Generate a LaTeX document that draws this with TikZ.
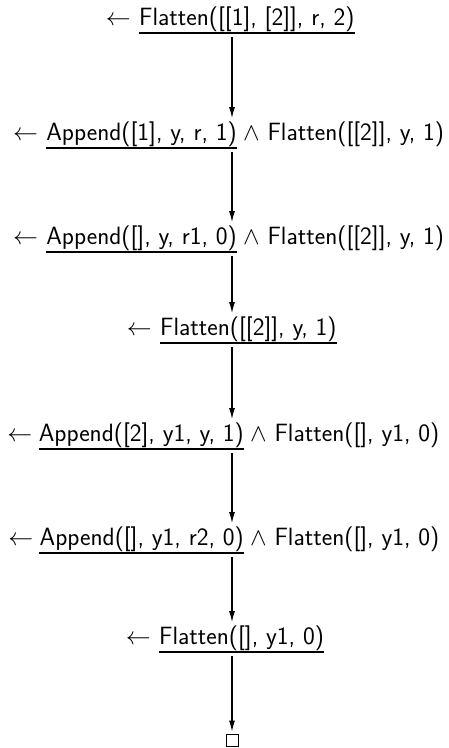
\documentclass[tikz,border=0pt]{standalone}
\usepackage{amsmath,amssymb}
\usepackage{tikz}
\usetikzlibrary{arrows.meta,positioning}
\tikzset{
  goal/.style={inner xsep=0pt,inner ysep=2pt,text height=18pt,text depth=5.5pt,
    font=\fontsize{25}{30}\selectfont\sffamily},
  selected/.style={goal},
  resolve/.style={-{Latex[length=11pt,width=6pt]},line width=1.2pt},
  uline/.style={line width=1.1pt}
}

\begin{document}
\begin{tikzpicture}[x=1pt,y=-1pt,node distance=8pt]
\useasboundingbox (0,0) rectangle (448,748);
\coordinate (col) at (232,0);
% line 1
\node[selected,anchor=south west] (s1) at (139,33) {Flatten([[1], [2]], r, 2)};
\node[goal,left=of s1] (a1) {$\leftarrow$};
% line 2
\node[selected,anchor=south east] (s2) at (237,148) {Append([1], y, r, 1)};
\node[goal,left=of s2] (a2) {$\leftarrow$};
\node[goal,right=6pt of s2] (r2) {$\wedge$ Flatten([[2]], y, 1)};
% line 3
\node[selected,anchor=south east] (s3) at (237,252) {Append([], y, r1, 0)};
\node[goal,left=of s3] (a3) {$\leftarrow$};
\node[goal,right=6pt of s3] (r3) {$\wedge$ Flatten([[2]], y, 1)};
% line 4
\node[selected,anchor=south west] (s4) at (160,343) {Flatten([[2]], y, 1)};
\node[goal,left=of s4] (a4) {$\leftarrow$};
% line 5
\node[selected,anchor=south east] (s5) at (244,449) {Append([2], y1, y, 1)};
\node[goal,left=6pt of s5] (a5) {$\leftarrow$};
\node[goal,right=6pt of s5] (r5) {$\wedge$ Flatten([], y1, 0)};
% line 6
\node[selected,anchor=south east] (s6) at (244,553) {Append([], y1, r2, 0)};
\node[goal,left=6pt of s6] (a6) {$\leftarrow$};
\node[goal,right=6pt of s6] (r6) {$\wedge$ Flatten([], y1, 0)};
% line 7
\node[selected,anchor=south west] (s7) at (159,652) {Flatten([], y1, 0)};
\node[goal,left=of s7] (a7) {$\leftarrow$};
% empty clause
\node[draw,line width=1pt,minimum width=12pt,minimum height=12pt,inner sep=0pt] (done) at (232,740) {};
% underlines
\foreach \s in {s1,s2,s3,s4,s5,s6,s7}
  \draw[uline] (\s.south west) -- (\s.south east);
% resolution steps
\foreach \from/\to in {s1/s2,s2/s3,s3/s4,s4/s5,s5/s6,s6/s7}
  \draw[resolve] ([yshift=-4pt]\from.south -| col) -- ([yshift=2pt]\to.north -| col);
\draw[resolve] ([yshift=-4pt]s7.south -| col) -- ([yshift=2pt]done.north -| col);
\end{tikzpicture}
\end{document}
